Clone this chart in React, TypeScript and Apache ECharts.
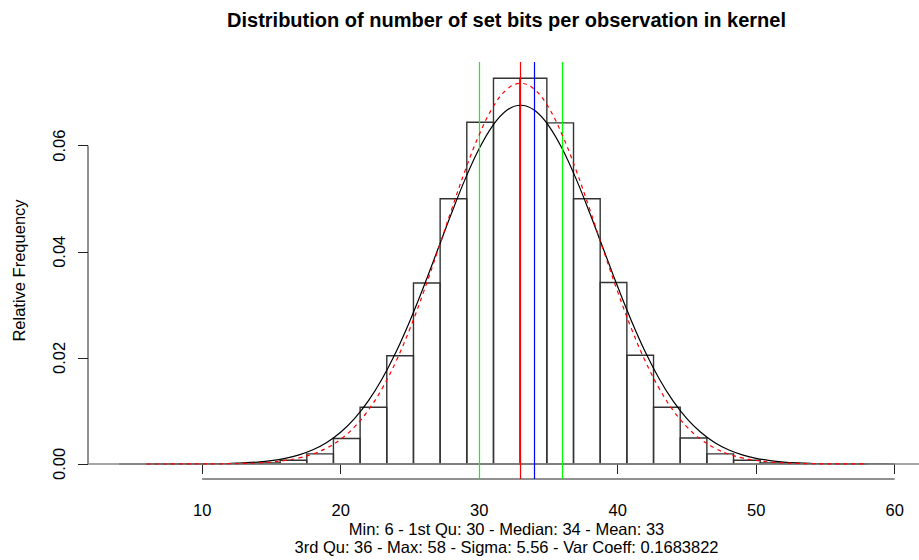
import React, { useEffect, useRef } from "react";
import * as echarts from "echarts";

// Histogram bins (breaks: 27 bins from min 6 to max 58)
const binEdges = [
  6.0, 7.926, 9.852, 11.778, 13.704, 15.63, 17.556, 19.481, 21.407, 23.333,
  25.259, 27.185, 29.111, 31.037, 32.963, 34.889, 36.815, 38.741, 40.667,
  42.593, 44.519, 46.444, 48.37, 50.296, 52.222, 54.148, 56.074, 58.0,
];
const binHeights = [
  0.00001, 0.00001, 0.00002, 0.00005, 0.0002, 0.0007, 0.0019, 0.0048, 0.0107,
  0.0204, 0.0341, 0.05, 0.0644, 0.0727, 0.0727, 0.0643, 0.05, 0.0342, 0.0205,
  0.0107, 0.0049, 0.0019, 0.0007, 0.0002, 0.00005, 0.00002, 0.00001,
];

// Solid black density curve
const densityX = [
  4, 5, 6, 7, 8, 9, 10, 11, 12, 13, 14, 15, 16, 17, 18, 19, 20, 21, 22, 23, 24,
  25, 26, 27, 28, 29, 30, 31, 32, 33, 34, 35, 36, 37, 38, 39, 40, 41, 42, 43,
  44, 45, 46, 47, 48, 49, 50, 51, 52, 53, 54, 55, 56, 57, 58, 59, 60,
];
const densityY = [
  0.0000004, 0.0000009, 0.0000019, 0.0000041, 0.0000085, 0.0000173, 0.0000339,
  0.0000647, 0.00012, 0.000216, 0.000378, 0.000644, 0.001065, 0.00171, 0.00267,
  0.00405, 0.005969, 0.008549, 0.01189, 0.01608, 0.02112, 0.02697, 0.03345,
  0.04032, 0.04722, 0.05374, 0.05942, 0.06384, 0.06666, 0.06762, 0.06666,
  0.06384, 0.05942, 0.05374, 0.04722, 0.04032, 0.03345, 0.02697, 0.02112,
  0.01608, 0.01189, 0.008549, 0.005969, 0.00405, 0.00267, 0.00171, 0.001065,
  0.000644, 0.000378, 0.000216, 0.00012, 0.0000647, 0.0000339, 0.0000173,
  0.0000085, 0.0000041, 0.0000019,
];

// Red dashed normal curve (mean 33, sigma 5.56)
const normalX = [
  6, 7, 8, 9, 10, 11, 12, 13, 14, 15, 16, 17, 18, 19, 20, 21, 22, 23, 24, 25,
  26, 27, 28, 29, 30, 31, 32, 33, 34, 35, 36, 37, 38, 39, 40, 41, 42, 43, 44,
  45, 46, 47, 48, 49, 50, 51, 52, 53, 54, 55, 56, 57, 58,
];
const normalY = [
  0.0000005, 0.0000012, 0.0000029, 0.0000065, 0.0000138, 0.0000286, 0.0000573,
  0.000111, 0.000209, 0.00038, 0.00067, 0.001142, 0.001885, 0.003014, 0.004664,
  0.006988, 0.01014, 0.01424, 0.01936, 0.02548, 0.03248, 0.04008, 0.04789,
  0.05539, 0.06203, 0.06726, 0.0706, 0.07175, 0.0706, 0.06726, 0.06203,
  0.05539, 0.04789, 0.04008, 0.03248, 0.02548, 0.01936, 0.01424, 0.01014,
  0.006988, 0.004664, 0.003014, 0.001885, 0.001142, 0.00067, 0.00038, 0.000209,
  0.000111, 0.0000573, 0.0000286, 0.0000138, 0.0000065, 0.0000029,
];

// Summary statistics (vertical reference lines)
const firstQu = 30;
const meanVal = 33;
const medianVal = 34;
const thirdQu = 36;

const xTicks = [10, 20, 30, 40, 50, 60];
const yTicks = [0, 0.02, 0.04, 0.06];

const titleText = "Distribution of number of set bits per observation in kernel";
const yTitle = "Relative Frequency";
const subLine1 = "Min: 6 - 1st Qu: 30 - Median: 34 - Mean: 33";
const subLine2 = "3rd Qu: 36 - Max: 58 - Sigma: 5.56 - Var Coeff: 0.1683822";

const X_MIN = 1.76;
const X_MAX = 61.76;
const Y_MIN = -0.00283;
const Y_MAX = 0.07577;

const FONT = "'Liberation Sans', Arial, Helvetica, sans-serif";
const FS = 16.5;

export default function App() {
  const ref = useRef<HTMLDivElement>(null);

  useEffect(() => {
    if (!ref.current) return;
    const chart = echarts.init(ref.current, undefined, { renderer: "svg" });

    const bins = binHeights.map((h, i) => [binEdges[i], binEdges[i + 1], h]);

    const textStyleCenter = (text: string, font: string) => ({
      text,
      font,
      fill: "#000",
      align: "center",
      verticalAlign: "middle",
      textAlign: "center",
      textVerticalAlign: "middle",
    });

    const option: any = {
      animation: false,
      backgroundColor: "#ffffff",
      textStyle: { fontFamily: FONT },
      grid: { left: 88, right: 0, top: 62, bottom: 81, containLabel: false },
      xAxis: {
        type: "value",
        min: X_MIN,
        max: X_MAX,
        axisLine: { show: false },
        splitLine: { show: false },
        axisTick: {
          show: true,
          length: 10,
          customValues: xTicks,
          lineStyle: { color: "#222", width: 1 },
        },
        axisLabel: {
          customValues: xTicks,
          margin: 22,
          color: "#000",
          fontSize: FS,
          fontFamily: FONT,
        },
      },
      yAxis: {
        type: "value",
        min: Y_MIN,
        max: Y_MAX,
        name: yTitle,
        nameLocation: "middle",
        nameRotate: 90,
        nameGap: 61,
        nameTextStyle: { fontSize: FS, color: "#000", fontFamily: FONT },
        axisLine: { show: false },
        splitLine: { show: false },
        axisTick: {
          show: true,
          length: 10,
          customValues: yTicks,
          lineStyle: { color: "#222", width: 1 },
        },
        axisLabel: {
          customValues: yTicks,
          rotate: 90,
          margin: 21,
          color: "#000",
          fontSize: FS,
          fontFamily: FONT,
          formatter: (v: number) => v.toFixed(2),
        },
      },
      graphic: [
        {
          type: "text",
          x: 506.5,
          y: 19.5,
          style: textStyleCenter(titleText, `bold 20px ${FONT}`),
        },
        {
          type: "text",
          x: 506.5,
          y: 529,
          style: textStyleCenter(subLine1, `${FS}px ${FONT}`),
        },
        {
          type: "text",
          x: 506.5,
          y: 547,
          style: textStyleCenter(subLine2, `${FS}px ${FONT}`),
        },
      ],
      series: [
        {
          // baseline at 0
          type: "line",
          data: [],
          silent: true,
          z: 1,
          markLine: {
            silent: true,
            symbol: ["none", "none"],
            label: { show: false },
            data: [{ yAxis: 0, lineStyle: { color: "#888", width: 1.5, type: "solid" } }],
          },
        },
        {
          type: "custom",
          z: 2,
          silent: true,
          renderItem: (params: any, api: any) => {
            const x0 = api.value(0);
            const x1 = api.value(1);
            const h = api.value(2);
            const p0 = api.coord([x0, h]);
            const p1 = api.coord([x1, 0]);
            return {
              type: "rect",
              shape: {
                x: p0[0],
                y: p0[1],
                width: p1[0] - p0[0],
                height: p1[1] - p0[1],
              },
              style: { fill: "rgba(0,0,0,0)", stroke: "#333", lineWidth: 1.4 },
            };
          },
          encode: { x: [0, 1], y: 2 },
          data: bins,
        },
        {
          // axis lines spanning only the tick range (R style)
          type: "custom",
          z: 3,
          silent: true,
          renderItem: (params: any, api: any) => {
            const a = api.coord([xTicks[0], Y_MIN]);
            const b = api.coord([xTicks[xTicks.length - 1], Y_MIN]);
            const c = api.coord([X_MIN, yTicks[0]]);
            const d = api.coord([X_MIN, yTicks[yTicks.length - 1]]);
            return {
              type: "group",
              children: [
                {
                  type: "line",
                  shape: { x1: a[0], y1: a[1], x2: b[0], y2: b[1] },
                  style: { stroke: "#222", lineWidth: 1 },
                },
                {
                  type: "line",
                  shape: { x1: c[0], y1: c[1], x2: d[0], y2: d[1] },
                  style: { stroke: "#222", lineWidth: 1 },
                },
              ],
            };
          },
          data: [[X_MIN, Y_MIN]],
        },
        {
          type: "line",
          z: 4,
          silent: true,
          showSymbol: false,
          smooth: 0.4,
          data: densityX.map((x, i) => [x, densityY[i]]),
          lineStyle: { color: "#000", width: 1.2 },
        },
        {
          type: "line",
          z: 5,
          silent: true,
          showSymbol: false,
          smooth: 0.4,
          data: normalX.map((x, i) => [x, normalY[i]]),
          lineStyle: { color: "#ff0000", width: 1.2, type: [4, 4] },
        },
        {
          type: "line",
          data: [],
          z: 6,
          silent: true,
          markLine: {
            silent: true,
            symbol: ["none", "none"],
            label: { show: false },
            data: [
              { xAxis: firstQu, lineStyle: { color: "#00ff00", width: 1.2, type: "solid" } },
              { xAxis: thirdQu, lineStyle: { color: "#00ff00", width: 1.2, type: "solid" } },
              { xAxis: meanVal, lineStyle: { color: "#ff0000", width: 1.2, type: "solid" } },
              { xAxis: medianVal, lineStyle: { color: "#0000ff", width: 1.2, type: "solid" } },
            ],
          },
        },
      ],
    };

    chart.setOption(option);
    return () => chart.dispose();
  }, []);

  return (
    <div
      ref={ref}
      style={{ position: "fixed", left: 0, top: 0, width: 919, height: 560 }}
    />
  );
}
